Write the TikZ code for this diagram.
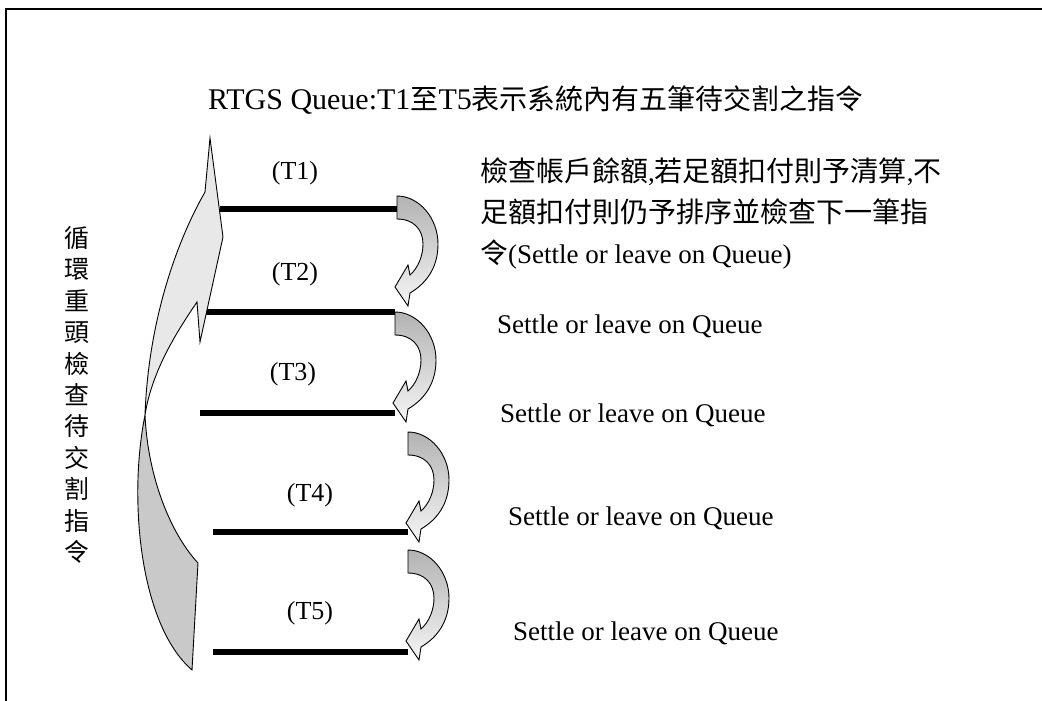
\documentclass[tikz,border=0pt]{standalone}
\usepackage{fontspec}
\setmainfont{Liberation Serif}
\newfontfamily\cjk{Noto Sans CJK TC}

\tikzset{
	bar/.style={line width=6pt},
	tlabel/.style={font=\fontsize{26}{30}\selectfont},
	settle/.style={anchor=west, inner sep=0pt, font=\fontsize{27}{32}\selectfont},
	turn fill/.style={draw=black, line width=0.9pt, top color=gray!60, bottom color=gray!8},
	turn arrow/.pic={
		\path[turn fill] (0,0) .. controls (22,0) and (41,22) .. (41,48)
			.. controls (41,71) and (30,87) .. (13,97)
			-- (11,110) -- (-2,91) -- (11,69) -- (13,79)
			.. controls (21,72) and (26,60) .. (26,48)
			.. controls (26,34) and (17,23) .. (0,23) -- cycle;
	}
}

\begin{document}
\begin{tikzpicture}[x=1pt,y=-1pt]
	\useasboundingbox (0,0) rectangle (1042,701);

	% frame
	\draw[line width=2pt] (6,701) -- (6,9) -- (1042,9);

	\node (title) at (536,100) {\fontsize{30}{34}\selectfont RTGS Queue:T1{\cjk\fontsize{28}{34}\selectfont 至}T5{\cjk\fontsize{28}{34}\selectfont 表示系統內有五筆待交割之指令}};

	% queue bars
	\coordinate (t1w) at (220,209); \coordinate (t1e) at (397,209);
	\coordinate (t2w) at (205,312); \coordinate (t2e) at (395,312);
	\coordinate (t3w) at (200,413); \coordinate (t3e) at (395,413);
	\coordinate (t4w) at (213,532); \coordinate (t4e) at (408,532);
	\coordinate (t5w) at (213,652); \coordinate (t5e) at (408,652);
	\foreach \i in {1,...,5}
		\draw[bar] (t\i w) -- (t\i e);

	\node[tlabel] (l1) at (295,173) {(T1)};
	\node[tlabel] (l2) at (295,274) {(T2)};
	\node[tlabel] (l3) at (293,374) {(T3)};
	\node[tlabel] (l4) at (310,495) {(T4)};
	\node[tlabel] (l5) at (310,613) {(T5)};

	% turning arrows between the bars
	\pic at ([shift={(0,-13)}]t1e) {turn arrow};
	\pic at (t2e) {turn arrow};
	\pic at ([shift={(13,19)}]t3e) {turn arrow};
	\pic at ([shift={(0,18)}]t4e) {turn arrow};

	% big loop arrow
	\coordinate (loop) at (145,415);
	\path[draw=black, line width=0.9pt, fill=gray!18] (loop)
		.. controls (148,330) and (172,250) .. (205,192)
		-- (210,138) -- (223,237) -- (200,342) -- (197,302)
		.. controls (178,330) and (152,370) .. (loop);
	\path[draw=black, line width=0.9pt, fill=gray!42] (loop)
		.. controls (128,500) and (140,625) .. (192,670)
		-- (198,563)
		.. controls (172,535) and (148,480) .. (loop);

	\node[align=center, inner sep=0pt, font=\cjk\fontsize{25}{31.4}\selectfont] (loopnote) at (77,395)
		{循\\環\\重\\頭\\檢\\查\\待\\交\\割\\指\\令};

	\node[settle, align=left, font=\fontsize{27}{41}\selectfont] (n1) at (480,214)
		{{\cjk\fontsize{28}{41}\selectfont 檢查帳戶餘額}{,}{\cjk\fontsize{28}{41}\selectfont 若足額扣付則予清算}{,}{\cjk\fontsize{28}{41}\selectfont 不}\\
		 {\cjk\fontsize{28}{41}\selectfont 足額扣付則仍予排序並檢查下一筆指}\\
		 {\cjk\fontsize{28}{41}\selectfont 令}(Settle or leave on Queue)};
	\node[settle] (n2) at (497,326) {Settle or leave on Queue};
	\node[settle] (n3) at (500,415) {Settle or leave on Queue};
	\node[settle] (n4) at (508,518) {Settle or leave on Queue};
	\node[settle] (n5) at (513,633) {Settle or leave on Queue};
\end{tikzpicture}
\end{document}
